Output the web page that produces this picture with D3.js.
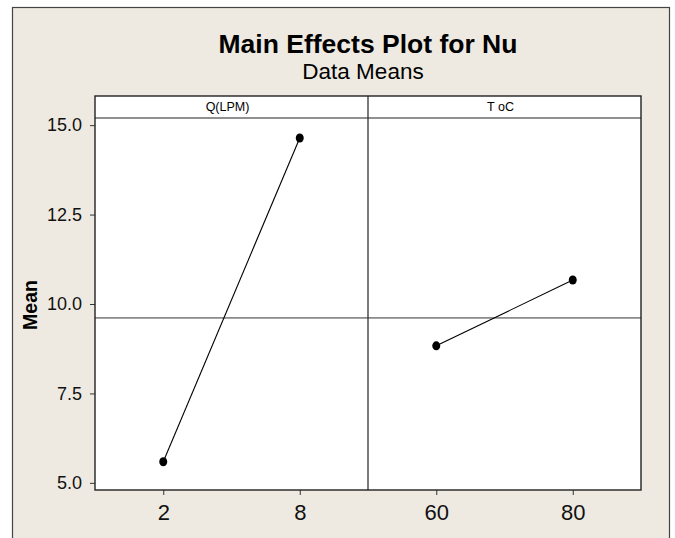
<!DOCTYPE html>
<html>
<head>
<meta charset="utf-8">
<script src="https://cdn.jsdelivr.net/npm/d3@7"></script>
<style>
  body { margin: 0; background: #fff; }
  svg { display: block; font-family: "Liberation Sans", Arial, sans-serif; }
</style>
</head>
<body>
<div id="chart"></div>
<script>
'use strict';

// factors and their level means
var factors = ['Q(LPM)', 'T oC'];
var qLevels = ['2', '8'];
var qMeans = [5.59, 14.64];
var tLevels = ['60', '80'];
var tMeans = [8.83, 10.67];
var grandMean = 9.61;
var yTicks = [5.0, 7.5, 10.0, 12.5, 15.0];

var width = 675, height = 538;
var plotLeft = 95, plotRight = 641, plotTop = 96, headerH = 22, plotBottom = 490;

var svg = d3.select('#chart').append('svg')
    .attr('width', width)
    .attr('height', height);

// beige page with its frame
svg.append('rect')
    .attr('x', 12.5).attr('y', 7.5)
    .attr('width', 657).attr('height', 545)
    .attr('fill', '#eeeae1')
    .attr('stroke', '#444').attr('stroke-width', 1.2);

svg.append('text')
    .attr('x', 368).attr('y', 53)
    .attr('text-anchor', 'middle')
    .style('font-size', '26.5px').style('font-weight', 'bold')
    .text('Main Effects Plot for Nu');

svg.append('text')
    .attr('x', 363).attr('y', 79)
    .attr('text-anchor', 'middle')
    .style('font-size', '22.5px')
    .text('Data Means');

var y = d3.scaleLinear()
    .domain([4.8, 15.2])
    .range([plotBottom, plotTop + headerH]);

var panelW = (plotRight - plotLeft) / factors.length;
var panels = [
    { name: factors[0], levels: qLevels, means: qMeans },
    { name: factors[1], levels: tLevels, means: tMeans }
];

// panel background
svg.append('rect')
    .attr('x', plotLeft).attr('y', plotTop)
    .attr('width', plotRight - plotLeft).attr('height', plotBottom - plotTop)
    .attr('fill', '#fff');

// y axis
var yAxis = svg.append('g')
    .attr('transform', 'translate(' + plotLeft + ',0)')
    .call(d3.axisLeft(y).tickValues(yTicks).tickFormat(d3.format('.1f')).tickSize(5).tickPadding(8));
yAxis.select('.domain').remove();
yAxis.selectAll('line').attr('stroke', '#333');
yAxis.selectAll('text')
    .style('font-size', '18px')
    .style('font-family', '"Liberation Sans", Arial, sans-serif')
    .attr('fill', '#111');

svg.append('text')
    .attr('transform', 'translate(37,305) rotate(-90)')
    .attr('text-anchor', 'middle')
    .style('font-size', '19.5px').style('font-weight', 'bold')
    .text('Mean');

panels.forEach(function(p, i) {
    var x0 = plotLeft + i * panelW;
    var x = d3.scalePoint()
        .domain(p.levels)
        .range([x0, x0 + panelW])
        .padding(0.5);

    // grand mean reference line
    svg.append('line')
        .attr('x1', x0).attr('x2', x0 + panelW)
        .attr('y1', y(grandMean)).attr('y2', y(grandMean))
        .attr('stroke', '#333').attr('stroke-width', 1);

    var pts = p.levels.map(function(l, j) { return [x(l), y(p.means[j])]; });

    svg.append('path')
        .datum(pts)
        .attr('d', d3.line())
        .attr('fill', 'none')
        .attr('stroke', '#000').attr('stroke-width', 1.1);

    svg.selectAll(null)
        .data(pts).enter().append('ellipse')
        .attr('cx', function(d) { return d[0]; })
        .attr('cy', function(d) { return d[1]; })
        .attr('rx', 4).attr('ry', 4.5)
        .attr('fill', '#000');

    var xAxis = svg.append('g')
        .attr('transform', 'translate(0,' + plotBottom + ')')
        .call(d3.axisBottom(x).tickSize(5).tickPadding(9));
    xAxis.select('.domain').remove();
    xAxis.selectAll('line').attr('stroke', '#333');
    xAxis.selectAll('text')
        .style('font-size', '22px')
        .style('font-family', '"Liberation Sans", Arial, sans-serif')
        .attr('fill', '#111');

    // strip header
    svg.append('text')
        .attr('x', x0 + panelW / 2 - 4).attr('y', plotTop + 15)
        .attr('text-anchor', 'middle')
        .style('font-size', '12.5px')
        .text(p.name);

    if (i > 0) {
        svg.append('line')
            .attr('x1', x0).attr('x2', x0)
            .attr('y1', plotTop).attr('y2', plotBottom)
            .attr('stroke', '#222').attr('stroke-width', 1.2);
    }
});

// header divider and frame
svg.append('line')
    .attr('x1', plotLeft).attr('x2', plotRight)
    .attr('y1', plotTop + headerH).attr('y2', plotTop + headerH)
    .attr('stroke', '#222').attr('stroke-width', 1.2);

svg.append('rect')
    .attr('x', plotLeft).attr('y', plotTop)
    .attr('width', plotRight - plotLeft).attr('height', plotBottom - plotTop)
    .attr('fill', 'none')
    .attr('stroke', '#222').attr('stroke-width', 1.4);
</script>
</body>
</html>
